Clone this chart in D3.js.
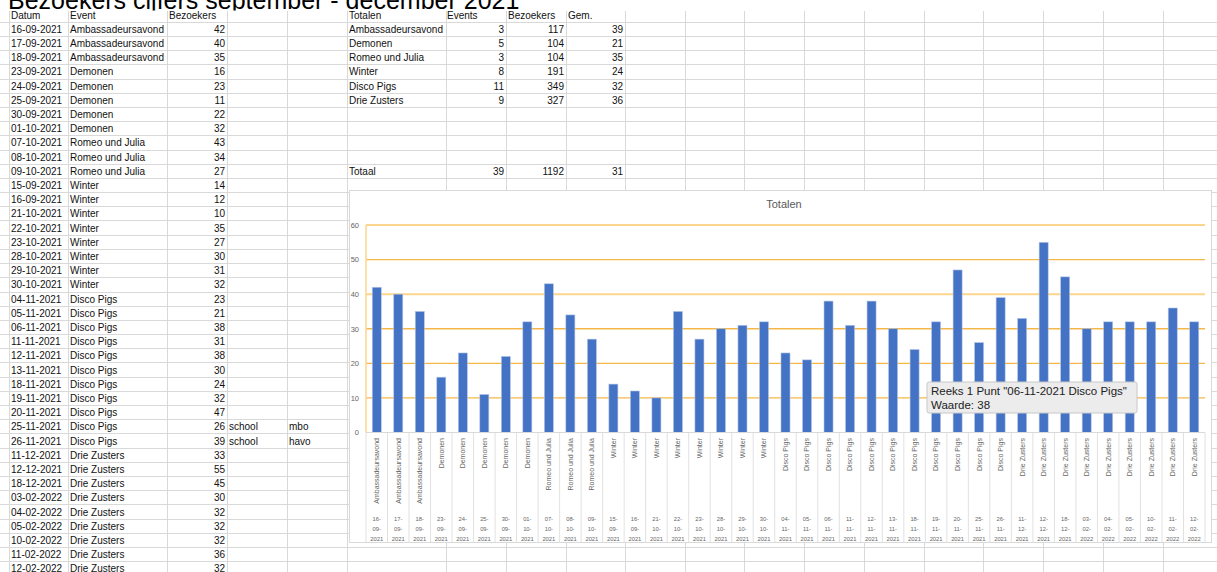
<!DOCTYPE html>
<html><head><meta charset="utf-8">
<script src="https://cdn.jsdelivr.net/npm/d3@7"></script>
<style>body{margin:0;background:#fff;overflow:hidden}svg{display:block;font-family:"Liberation Sans",Arial,sans-serif}</style>
</head><body><svg id="c" width="1217" height="572"></svg>
<script>
const dates = ["16-09-2021","17-09-2021","18-09-2021","23-09-2021","24-09-2021","25-09-2021","30-09-2021","01-10-2021","07-10-2021","08-10-2021","09-10-2021","15-09-2021","16-09-2021","21-10-2021","22-10-2021","23-10-2021","28-10-2021","29-10-2021","30-10-2021","04-11-2021","05-11-2021","06-11-2021","11-11-2021","12-11-2021","13-11-2021","18-11-2021","19-11-2021","20-11-2021","25-11-2021","26-11-2021","11-12-2021","12-12-2021","18-12-2021","03-02-2022","04-02-2022","05-02-2022","10-02-2022","11-02-2022","12-02-2022"];
const events = ["Ambassadeursavond","Ambassadeursavond","Ambassadeursavond","Demonen","Demonen","Demonen","Demonen","Demonen","Romeo und Julia","Romeo und Julia","Romeo und Julia","Winter","Winter","Winter","Winter","Winter","Winter","Winter","Winter","Disco Pigs","Disco Pigs","Disco Pigs","Disco Pigs","Disco Pigs","Disco Pigs","Disco Pigs","Disco Pigs","Disco Pigs","Disco Pigs","Disco Pigs","Drie Zusters","Drie Zusters","Drie Zusters","Drie Zusters","Drie Zusters","Drie Zusters","Drie Zusters","Drie Zusters","Drie Zusters"];
const visitors = [42,40,35,16,23,11,22,32,43,34,27,14,12,10,35,27,30,31,32,23,21,38,31,38,30,24,32,47,26,39,33,55,45,30,32,32,32,36,32];
const noteSchool = {28:"school",29:"school"};
const noteLevel = {28:"mbo",29:"havo"};
const tableHeaders = ["Datum","Event","Bezoekers"];
const totalHeaders = ["Totalen","Events","Bezoekers","Gem."];
const totalNames = ["Ambassadeursavond","Demonen","Romeo und Julia","Winter","Disco Pigs","Drie Zusters"];
const totalEvents = [3,5,3,8,11,9];
const totalVisitors = [117,104,104,191,349,327];
const totalAvg = [39,21,35,24,32,36];
const grandTotal = ["Totaal",39,1192,31];
const yTicks = [0,10,20,30,40,50,60];
const pageTitle = "Bezoekers cijfers september - december 2021";
const chartTitle = "Totalen";
const tipIndex = 21;

const svg = d3.select("#c");
svg.append("defs").append("clipPath").attr("id","titleClip")
  .append("rect").attr("x",0).attr("y",0).attr("width",1217).attr("height",10.5);

// spreadsheet grid
const colX = [9,68,167,227,287,347,446,506,566,625,685,744,804,864,924,983,1043,1103,1163];
const rowTop = 21.7, rowH = 14.2;
const rowY = k => rowTop + rowH*k;
const grid = svg.append("g").attr("stroke","#d9d9d9").attr("stroke-width",1);
for(let k=0;k<=40;k++) grid.append("line").attr("x1",0).attr("x2",1217).attr("y1",Math.round(rowY(k))+0.5).attr("y2",Math.round(rowY(k))+0.5);
colX.forEach(x=>grid.append("line").attr("x1",x+0.5).attr("x2",x+0.5).attr("y1",11).attr("y2",572));

svg.append("text").attr("x",8).attr("y",8.8).attr("font-size",25).attr("fill","#000")
  .attr("clip-path","url(#titleClip)").text(pageTitle);

const cell = svg.append("g").attr("font-size",10).attr("fill","#111");
const base = k => rowY(k) - 3.2;
cell.append("text").attr("x",11).attr("y",base(0)).text(tableHeaders[0]);
cell.append("text").attr("x",70).attr("y",base(0)).text(tableHeaders[1]);
cell.append("text").attr("x",169).attr("y",base(0)).text(tableHeaders[2]);
dates.forEach((d,i)=>{
  cell.append("text").attr("x",11).attr("y",base(i+1)).text(d);
  cell.append("text").attr("x",70).attr("y",base(i+1)).text(events[i]);
  cell.append("text").attr("x",225).attr("y",base(i+1)).attr("text-anchor","end").text(visitors[i]);
  if(noteSchool[i]){
    cell.append("text").attr("x",229).attr("y",base(i+1)).text(noteSchool[i]);
    cell.append("text").attr("x",289).attr("y",base(i+1)).text(noteLevel[i]);
  }
});
const tx = [349,447,508,568], tr=[null,504,564,623];
totalHeaders.forEach((h,j)=>cell.append("text").attr("x",tx[j]).attr("y",base(0)).text(h));
totalNames.forEach((n,i)=>{
  cell.append("text").attr("x",349).attr("y",base(i+1)).text(n);
  cell.append("text").attr("x",tr[1]).attr("y",base(i+1)).attr("text-anchor","end").text(totalEvents[i]);
  cell.append("text").attr("x",tr[2]).attr("y",base(i+1)).attr("text-anchor","end").text(totalVisitors[i]);
  cell.append("text").attr("x",tr[3]).attr("y",base(i+1)).attr("text-anchor","end").text(totalAvg[i]);
});
cell.append("text").attr("x",349).attr("y",base(11)).text(grandTotal[0]);
[1,2,3].forEach(j=>cell.append("text").attr("x",tr[j]).attr("y",base(11)).attr("text-anchor","end").text(grandTotal[j]));

// chart
svg.append("rect").attr("x",349.5).attr("y",190.5).attr("width",862).attr("height",352).attr("fill","#fff").attr("stroke","#d9d9d9");
svg.append("text").attr("x",784).attr("y",208).attr("text-anchor","middle").attr("font-size",11).attr("fill","#595959").text(chartTitle);

const keys = dates.map((d,i)=>i);
const x = d3.scaleBand().domain(keys).range([366,1205]).paddingInner(0.58).paddingOuter(0.29);
const y = d3.scaleLinear().domain([0,60]).range([432.5,225]);

const gl = svg.append("g");
yTicks.filter(t=>t>0).forEach(t=>{
  const light = (t===40||t===60);
  gl.append("line").attr("x1",366).attr("x2",1205).attr("y1",y(t)).attr("y2",y(t))
    .attr("stroke",light?"#fcd58c":"#f5b748").attr("stroke-width",light?2:1.3);
});
gl.append("line").attr("x1",366).attr("x2",366).attr("y1",y(60)).attr("y2",y(0)).attr("stroke","#fcd58c").attr("stroke-width",1.5);

const yAxis = svg.append("g").attr("transform","translate(359,0)")
  .call(d3.axisLeft(y).tickValues(yTicks).tickSize(0).tickPadding(0));
yAxis.select(".domain").remove();
yAxis.selectAll("text").attr("font-size",7.5).attr("fill","#666").attr("font-family","Liberation Sans, Arial, sans-serif");

svg.append("g").selectAll("rect").data(keys).join("rect")
  .attr("x",i=>x(i)).attr("width",x.bandwidth())
  .attr("y",i=>y(visitors[i])).attr("height",i=>y(0)-y(visitors[i]))
  .attr("fill","#4472c4").attr("stroke","#b4c7e7").attr("stroke-width",0.6);

// category area
const step = x.step();
const cat = svg.append("g");
cat.append("line").attr("x1",366).attr("x2",1205).attr("y1",432.5).attr("y2",432.5).attr("stroke","#d9d9d9");
for(let i=0;i<=keys.length;i++){
  const bx = 366 + step*i;
  cat.append("line").attr("x1",bx).attr("x2",bx).attr("y1",432.5).attr("y2",542).attr("stroke","#d9d9d9").attr("stroke-width",0.8);
}
keys.forEach(i=>{
  const cx = x(i)+x.bandwidth()/2;
  cat.append("text").attr("transform",`translate(${cx+2.4},438) rotate(-90)`).attr("text-anchor","end")
    .attr("font-size",7).attr("fill","#666").text(events[i]);
  const parts = dates[i].split("-");
  [parts[0]+"-",parts[1]+"-",parts[2]].forEach((p,j)=>{
    cat.append("text").attr("x",cx).attr("y",521.2+j*9.8).attr("text-anchor","middle")
      .attr("font-size",5.8).attr("fill","#666").text(p);
  });
});

// tooltip
const tip = svg.append("g");
tip.append("rect").attr("x",927).attr("y",382).attr("width",210).attr("height",31).attr("rx",2)
  .attr("fill","#ececec").attr("stroke","#c8c8c8");
tip.append("text").attr("x",931).attr("y",395).attr("font-size",11.5).attr("fill","#222")
  .text(`Reeks 1 Punt "${dates[tipIndex]} ${events[tipIndex]}"`);
tip.append("text").attr("x",931).attr("y",409).attr("font-size",11.5).attr("fill","#222")
  .text(`Waarde: ${visitors[tipIndex]}`);
</script></body></html>
